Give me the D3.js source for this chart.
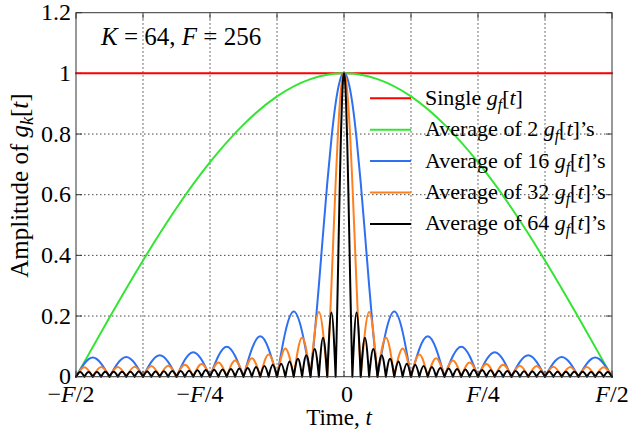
<!DOCTYPE html>
<html>
<head>
<meta charset="utf-8">
<script src="https://cdn.jsdelivr.net/npm/d3@7"></script>
<style>
  body { margin: 0; background: #fff; }
</style>
</head>
<body>
<svg id="chart" width="633" height="431" font-family="'Liberation Serif', 'Times New Roman', Times, 'DejaVu Serif', serif"></svg>
<script>
// grid / ticks (time in samples, F = 256)
const xGrid = [-128, -96, -64, -32, 0, 32, 64, 96, 128];
const xLabelTicks = [-128, -64, 0, 64, 128];
const xLabelText = [["−", "F", "/2"], ["−", "F", "/4"], ["", "", "0"], ["", "F", "/4"], ["", "F", "/2"]];
const yTicks = [0, 0.2, 0.4, 0.6, 0.8, 1, 1.2];
const yTickLabels = ["0", "0.2", "0.4", "0.6", "0.8", "1", "1.2"];

// single g_f[t]
const singleT = [-128, 128];
const singleV = [1, 1];

// average of 2 (half curve, mirrored about t = 0)
const avg2T = [0, 16, 32, 48, 64, 80, 96, 112, 128];
const avg2V = [1, 0.981, 0.924, 0.831, 0.707, 0.556, 0.383, 0.195, 0];

// average of 16
const avg16MainT = [0, 2, 4, 6, 8, 10, 12, 14, 16];
const avg16MainV = [1, 0.975, 0.901, 0.785, 0.638, 0.472, 0.301, 0.140, 0];
const avg16Zeros = [16, 32, 48, 64, 80, 96, 112, 128];
const avg16Peaks = [0.215, 0.133, 0.099, 0.081, 0.071, 0.065, 0.063];

// average of 32
const avg32MainT = [0, 1, 2, 3, 4, 5, 6, 7, 8];
const avg32MainV = [1, 0.975, 0.901, 0.785, 0.638, 0.472, 0.301, 0.140, 0];
const avg32Zeros = [8, 16, 24, 32, 40, 48, 56, 64, 72, 80, 88, 96, 104, 112, 120, 128];
const avg32Peaks = [0.213, 0.129, 0.093, 0.073, 0.061, 0.053, 0.047, 0.042, 0.039, 0.036, 0.035, 0.033, 0.032, 0.032, 0.031];

// average of 64
const avg64MainT = [0, 0.5, 1, 1.5, 2, 2.5, 3, 3.5, 4];
const avg64MainV = [1, 0.975, 0.901, 0.785, 0.638, 0.472, 0.301, 0.140, 0];
const avg64Zeros = [4, 8, 12, 16, 20, 24, 28, 32, 36, 40, 44, 48, 52, 56, 60, 64,
                    68, 72, 76, 80, 84, 88, 92, 96, 100, 104, 108, 112, 116, 120, 124, 128];
const avg64Peaks = [0.212, 0.128, 0.091, 0.071, 0.059, 0.050, 0.043, 0.039, 0.035, 0.032,
                    0.029, 0.027, 0.025, 0.024, 0.023, 0.022, 0.021, 0.020, 0.019, 0.0185,
                    0.018, 0.0175, 0.017, 0.017, 0.0165, 0.016, 0.016, 0.016, 0.0157, 0.0157, 0.0156];

const legendItems = [
    { pre: "Single ", post: "", color: "#ff0000" },
    { pre: "Average of 2 ", post: "’s", color: "#33e533" },
    { pre: "Average of 16 ", post: "’s", color: "#2f6ff2" },
    { pre: "Average of 32 ", post: "’s", color: "#ff801f" },
    { pre: "Average of 64 ", post: "’s", color: "#000000" }
];

const margin = { top: 12.7, right: 21, bottom: 54.3, left: 76 };
const width = 633, height = 431;
const xLabelNudge = [-5, -10, 3, 5, 0];

const svg = d3.select("#chart");

const x = d3.scaleLinear().domain([-128, 128]).range([margin.left, width - margin.right]);
const y = d3.scaleLinear().domain([0, 1.2]).range([height - margin.bottom, margin.top]);

// grid
const grid = svg.append("g")
    .attr("stroke", "#444")
    .attr("stroke-width", 1)
    .attr("stroke-dasharray", "1.5,2.5");

grid.selectAll(".vg").data(xGrid.slice(1, -1)).join("line")
    .attr("x1", d => x(d)).attr("x2", d => x(d))
    .attr("y1", y(0)).attr("y2", y(1.2));

grid.selectAll(".hg").data(yTicks.slice(1, -1)).join("line")
    .attr("y1", d => y(d)).attr("y2", d => y(d))
    .attr("x1", x(-128)).attr("x2", x(128));

// inner tick marks
const ticks = svg.append("g").attr("stroke", "#333").attr("stroke-width", 1);
xGrid.forEach(t => {
    ticks.append("line").attr("x1", x(t)).attr("x2", x(t)).attr("y1", y(0)).attr("y2", y(0) - 6);
    ticks.append("line").attr("x1", x(t)).attr("x2", x(t)).attr("y1", y(1.2)).attr("y2", y(1.2) + 6);
});
yTicks.forEach(v => {
    ticks.append("line").attr("y1", y(v)).attr("y2", y(v)).attr("x1", x(-128)).attr("x2", x(-128) + 6);
    ticks.append("line").attr("y1", y(v)).attr("y2", y(v)).attr("x1", x(128)).attr("x2", x(128) - 6);
});

// curves
const smooth = d3.line().x(d => x(d[0])).y(d => y(d[1])).curve(d3.curveNatural);

function mirrored(ts, vs) {
    const right = ts.map((t, i) => [t, vs[i]]);
    const left = right.slice(1).map(([t, v]) => [-t, v]).reverse();
    return left.concat(right);
}

function lobedPath(mainT, mainV, zeros, peaks) {
    let d = smooth(mirrored(mainT, mainV));
    peaks.forEach((p, i) => {
        const z0 = zeros[i], z1 = zeros[i + 1], m = (z0 + z1) / 2;
        d += smooth([[z0, 0], [m, p], [z1, 0]]);
        d += smooth([[-z1, 0], [-m, p], [-z0, 0]]);
    });
    return d;
}

const curves = svg.append("g")
    .attr("fill", "none")
    .attr("stroke-width", 2)
    .attr("stroke-linejoin", "round")
    .attr("stroke-linecap", "round");

curves.append("path")
    .attr("stroke", legendItems[0].color)
    .attr("d", d3.line().x(d => x(d[0])).y(d => y(d[1]))(singleT.map((t, i) => [t, singleV[i]])));

curves.append("path")
    .attr("stroke", legendItems[1].color)
    .attr("d", smooth(mirrored(avg2T, avg2V)));

curves.append("path")
    .attr("stroke", legendItems[2].color)
    .attr("d", lobedPath(avg16MainT, avg16MainV, avg16Zeros, avg16Peaks));

curves.append("path")
    .attr("stroke", legendItems[3].color)
    .attr("d", lobedPath(avg32MainT, avg32MainV, avg32Zeros, avg32Peaks));

curves.append("path")
    .attr("stroke", legendItems[4].color)
    .attr("d", lobedPath(avg64MainT, avg64MainV, avg64Zeros, avg64Peaks));

// frame
svg.append("rect")
    .attr("x", x(-128)).attr("y", y(1.2))
    .attr("width", x(128) - x(-128)).attr("height", y(0) - y(1.2))
    .attr("fill", "none").attr("stroke", "#333").attr("stroke-width", 1);

// g_sub[t] helper
function gTerm(textSel, sub) {
    textSel.append("tspan").attr("font-style", "italic").text("g");
    textSel.append("tspan").attr("font-style", "italic").attr("font-size", "0.72em").attr("dy", 5).text(sub);
    textSel.append("tspan").attr("dy", -5).text("[");
    textSel.append("tspan").attr("font-style", "italic").text("t");
    textSel.append("tspan").text("]");
}

// y tick labels
svg.append("g").selectAll("text").data(yTicks).join("text")
    .attr("x", 71)
    .attr("y", d => y(d) + 7.5)
    .attr("text-anchor", "end")
    .attr("font-size", 24)
    .text((d, i) => yTickLabels[i]);

// x tick labels
xLabelTicks.forEach((t, i) => {
    const [a, b, c] = xLabelText[i];
    const tx = svg.append("text")
        .attr("x", x(t) + xLabelNudge[i]).attr("y", 402)
        .attr("text-anchor", "middle")
        .attr("font-size", 24);
    if (a) tx.append("tspan").text(a);
    if (b) tx.append("tspan").attr("font-style", "italic").text(b);
    tx.append("tspan").text(c);
});

// axis titles
const xt = svg.append("text")
    .attr("x", x(0) - 5).attr("y", 425)
    .attr("text-anchor", "middle")
    .attr("font-size", 23);
xt.append("tspan").text("Time, ");
xt.append("tspan").attr("font-style", "italic").text("t");

const yt = svg.append("text")
    .attr("transform", `translate(28,${y(0.63)}) rotate(-90)`)
    .attr("text-anchor", "middle")
    .attr("font-size", 25);
yt.append("tspan").text("Amplitude of ");
gTerm(yt, "k");

// parameter note
const note = svg.append("text")
    .attr("x", 101).attr("y", 45)
    .attr("font-size", 25);
note.append("tspan").attr("font-style", "italic").text("K");
note.append("tspan").text(" = 64, ");
note.append("tspan").attr("font-style", "italic").text("F");
note.append("tspan").text(" = 256");

// legend
const legend = svg.append("g");
legendItems.forEach((it, i) => {
    const ly = 98.3 + i * 31.4;
    legend.append("line")
        .attr("x1", 370).attr("x2", 411)
        .attr("y1", ly).attr("y2", ly)
        .attr("stroke", it.color).attr("stroke-width", 2);
    const lt = legend.append("text")
        .attr("x", 425).attr("y", ly + 6.5)
        .attr("font-size", 22);
    lt.append("tspan").text(it.pre);
    gTerm(lt, "f");
    if (it.post) lt.append("tspan").text(it.post);
});
</script>
</body>
</html>
